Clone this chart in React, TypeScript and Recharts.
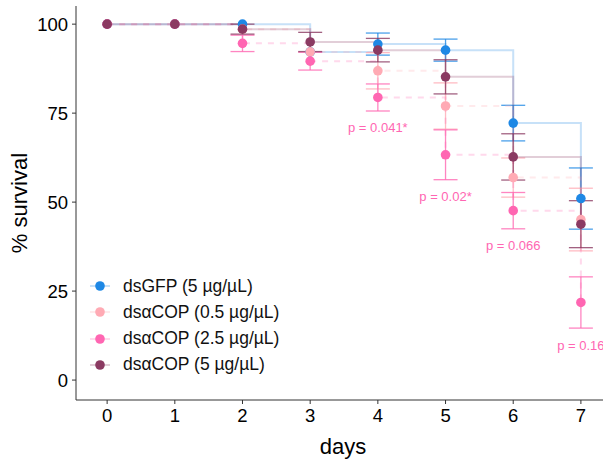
import React from 'react';
import { ComposedChart, Line, XAxis, YAxis, ErrorBar, Scatter } from 'recharts';

const FONT = '"Liberation Sans", Arial, sans-serif';

const DAYS = [0, 1, 2, 3, 4, 5, 6, 7];
const Y_TICKS = [0, 25, 50, 75, 100];

// mean % survival per day and its error
const GFP = [100, 100, 100, 92.2, 94.4, 92.7, 72.2, 51.0];
const GFP_ERR = [0, 0, 0, 0, 3.1, 3.1, 5.0, 8.6];
const COP_05 = [100, 100, 98.6, 92.2, 86.9, 77.0, 56.9, 45.1];
const COP_05_ERR = [0, 0, 0, 0, 5.1, 6.5, 5.5, 8.8];
const COP_25 = [100, 100, 94.6, 89.6, 79.4, 63.3, 47.6, 21.8];
const COP_25_ERR = [0, 0, 2.3, 2.5, 3.8, 7.0, 5.1, 7.2];
const COP_5 = [100, 100, 98.6, 95.0, 92.7, 85.2, 62.7, 43.8];
const COP_5_ERR = [0, 0, 1.4, 2.7, 3.3, 4.8, 6.5, 6.6];

// p-value annotations (dsαCOP 2.5 vs control)
const P_DAYS = [4, 5, 6, 7];
const P_Y = [70.9, 51.7, 37.7, 9.8];
const P_TEXT = ['p = 0.041*', 'p = 0.02*', 'p = 0.066', 'p = 0.16'];

const SERIES = [
  { key: 'gfp', name: 'dsGFP (5 µg/µL)', color: '#1E88E5', dash: undefined },
  { key: 'c05', name: 'dsαCOP (0.5 µg/µL)', color: '#FFAAB4', dash: '6 6' },
  { key: 'c25', name: 'dsαCOP (2.5 µg/µL)', color: '#FF66B2', dash: '6 6' },
  { key: 'c5', name: 'dsαCOP (5 µg/µL)', color: '#8B3A62', dash: undefined },
];

const data = DAYS.map((day, i) => ({
  day,
  gfp: GFP[i],
  gfpErr: GFP_ERR[i],
  c05: COP_05[i],
  c05Err: COP_05_ERR[i],
  c25: COP_25[i],
  c25Err: COP_25_ERR[i],
  c5: COP_5[i],
  c5Err: COP_5_ERR[i],
}));

const pData = P_DAYS.map((day, i) => ({ day, y: P_Y[i], text: P_TEXT[i] }));

const PLabel = (props: any) => (
  <text
    x={props.cx}
    y={props.cy}
    textAnchor="middle"
    dominantBaseline="central"
    fill="#FF66B2"
    fontFamily={FONT}
    fontSize={13}
  >
    {props.payload?.text}
  </text>
);

const YTitle = ({ viewBox }: any) => (
  <text
    x={viewBox.x + 19}
    y={viewBox.y + viewBox.height / 2}
    transform={`rotate(-90, ${viewBox.x + 19}, ${viewBox.y + viewBox.height / 2})`}
    textAnchor="middle"
    dominantBaseline="central"
    fill="#000"
    fontFamily={FONT}
    fontSize={22}
  >
    % survival
  </text>
);

const XTitle = ({ viewBox }: any) => (
  <text
    x={viewBox.x + viewBox.width / 2}
    y={viewBox.y + 54}
    textAnchor="middle"
    fill="#000"
    fontFamily={FONT}
    fontSize={22}
  >
    days
  </text>
);

const tickStyle = { fill: '#000', fontFamily: FONT, fontSize: 18.5 };

export default function App() {
  return (
    <div style={{ position: 'absolute', left: 0, top: 0, width: 603, height: 459, overflow: 'hidden', background: '#fff' }}>
      <ComposedChart width={620} height={459} data={data} margin={{ top: 6, right: 10, bottom: 0, left: 0 }}>
        <XAxis
          dataKey="day"
          type="number"
          domain={[-0.46, 7.43]}
          allowDataOverflow
          ticks={DAYS}
          tick={tickStyle}
          tickSize={4}
          tickMargin={5}
          height={59}
          stroke="#333"
          label={<XTitle />}
        />
        <XAxis xAxisId="top" orientation="top" type="number" domain={[0, 1]} tick={false} tickLine={false} height={0} stroke="#333" />
        <YAxis
          type="number"
          domain={[-5.6, 105.1]}
          allowDataOverflow
          ticks={Y_TICKS}
          tick={tickStyle}
          tickSize={4}
          tickMargin={4}
          width={76}
          stroke="#333"
          label={<YTitle />}
        />
        {SERIES.map((s) => (
          <Line
            key={s.key}
            dataKey={s.key}
            type="stepAfter"
            stroke={s.color}
            strokeOpacity={0.25}
            strokeWidth={2}
            strokeDasharray={s.dash}
            dot={{ r: 4.8, fill: s.color, stroke: 'none', strokeOpacity: 1, strokeDasharray: '0' }}
            activeDot={false}
            isAnimationActive={false}
          >
            <ErrorBar dataKey={`${s.key}Err`} width={12} stroke={s.color} strokeWidth={1.3} strokeOpacity={0.8} />
          </Line>
        ))}
        <Scatter data={pData} dataKey="y" shape={<PLabel />} isAnimationActive={false} />
      </ComposedChart>
      {SERIES.map((s, i) => (
        <div
          key={s.key}
          style={{
            position: 'absolute',
            left: 88,
            top: 273 + i * 26.3,
            height: 26,
            display: 'flex',
            alignItems: 'center',
            fontFamily: FONT,
            fontSize: 17.5,
            color: '#111',
            whiteSpace: 'nowrap',
          }}
        >
          <svg width={35} height={26} style={{ display: 'block' }}>
            <line x1={2} x2={22} y1={13} y2={13} stroke={s.color} strokeOpacity={0.25} strokeWidth={2} />
            <circle cx={12} cy={13} r={4.8} fill={s.color} />
          </svg>
          <span>{s.name}</span>
        </div>
      ))}
    </div>
  );
}
